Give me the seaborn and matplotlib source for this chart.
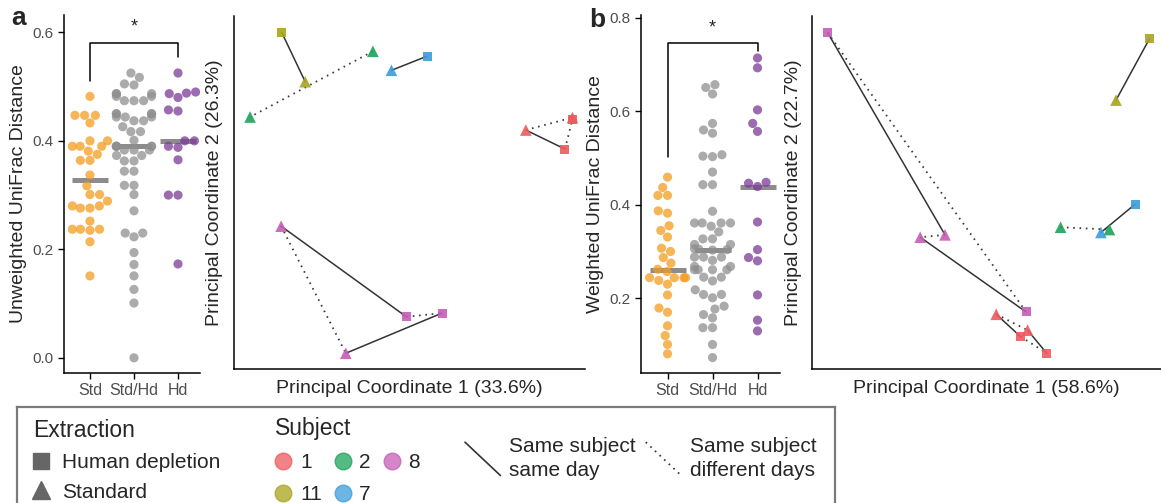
import pandas as pd
import matplotlib
matplotlib.use("Agg")
import matplotlib.pyplot as plt
import seaborn as sns
from matplotlib.lines import Line2D
from matplotlib.legend_handler import HandlerBase

sns.set_style("white")
plt.rcParams["font.family"] = ["Liberation Sans", "DejaVu Sans"]

# distances between replicate pairs
groups = ["Std", "Std/Hd", "Hd"]
unw_std = [0.482, 0.447, 0.447, 0.447, 0.433, 0.40, 0.40, 0.39, 0.39, 0.39,
           0.381, 0.375, 0.364, 0.364, 0.337, 0.317, 0.301, 0.301, 0.289, 0.28,
           0.28, 0.276, 0.276, 0.252, 0.237, 0.237, 0.237, 0.235, 0.214, 0.151]
unw_stdhd = [0.525, 0.517, 0.505, 0.503, 0.487, 0.487, 0.487, 0.482, 0.482, 0.474,
             0.474, 0.474, 0.45, 0.45, 0.45, 0.45, 0.444, 0.444, 0.444, 0.437,
             0.437, 0.426, 0.417, 0.417, 0.401, 0.39, 0.39, 0.39, 0.39, 0.39,
             0.383, 0.383, 0.383, 0.373, 0.373, 0.363, 0.363, 0.344, 0.344, 0.318,
             0.318, 0.301, 0.271, 0.23, 0.23, 0.223, 0.194, 0.172, 0.151, 0.126,
             0.101, 0.0]
unw_hd = [0.525, 0.49, 0.488, 0.487, 0.48, 0.457, 0.455, 0.40, 0.40, 0.39,
          0.388, 0.365, 0.30, 0.30, 0.173]
w_std = [0.459, 0.437, 0.420, 0.420, 0.387, 0.382, 0.355, 0.345, 0.331, 0.307,
         0.300, 0.287, 0.275, 0.262, 0.257, 0.244, 0.244, 0.244, 0.244, 0.238,
         0.230, 0.207, 0.179, 0.170, 0.141, 0.120, 0.101, 0.081]
w_stdhd = [0.657, 0.651, 0.637, 0.574, 0.560, 0.553, 0.507, 0.504, 0.503, 0.470,
           0.443, 0.443, 0.386, 0.361, 0.361, 0.361, 0.361, 0.354, 0.342, 0.327,
           0.327, 0.315, 0.315, 0.306, 0.305, 0.304, 0.303, 0.288, 0.288, 0.288,
           0.281, 0.268, 0.268, 0.261, 0.261, 0.261, 0.261, 0.245, 0.245, 0.237,
           0.218, 0.208, 0.208, 0.201, 0.183, 0.177, 0.165, 0.158, 0.137, 0.137,
           0.101, 0.073]
w_hd = [0.714, 0.693, 0.603, 0.574, 0.557, 0.448, 0.446, 0.439, 0.363, 0.304,
        0.287, 0.280, 0.207, 0.153, 0.130]

# significance brackets: left leg end, bar height, right leg end
sig_a = [0.511, 0.581, 0.555]
sig_b = [0.502, 0.747, 0.728]

# PCoA coordinates
subjects = ["1", "2", "8", "11", "7"]
pa_subject = ["11", "11", "2", "2", "7", "7", "1", "1", "1", "1", "8", "8", "8", "8"]
pa_extraction = ["Human depletion", "Standard", "Standard", "Standard", "Human depletion", "Standard",
                 "Standard", "Human depletion", "Standard", "Human depletion",
                 "Standard", "Human depletion", "Standard", "Human depletion"]
pa_day = [1, 1, 1, 2, 1, 1, 1, 1, 2, 2, 1, 1, 2, 2]
pa_pc1 = [-0.205, -0.158, -0.023, -0.268, 0.085, 0.014, 0.282, 0.360, 0.375, 0.375,
          -0.206, 0.044, -0.077, 0.115]
pa_pc2 = [0.270, 0.179, 0.235, 0.114, 0.226, 0.200, 0.090, 0.055, 0.113, 0.110,
          -0.087, -0.254, -0.321, -0.247]

pb_subject = ["8", "8", "8", "8", "11", "11", "7", "7", "2", "2", "1", "1", "1", "1"]
pb_extraction = ["Human depletion", "Standard", "Standard", "Human depletion",
                 "Human depletion", "Standard", "Human depletion", "Standard",
                 "Standard", "Standard",
                 "Standard", "Human depletion", "Standard", "Human depletion"]
pb_day = [1, 1, 2, 2, 1, 1, 1, 1, 1, 2, 1, 1, 2, 2]
pb_pc1 = [-0.410, -0.107, -0.171, 0.102, 0.420, 0.334, 0.383, 0.295, 0.191, 0.317,
          0.025, 0.088, 0.106, 0.155]
pb_pc2 = [0.322, -0.022, -0.026, -0.153, 0.311, 0.207, 0.030, -0.018, -0.009, -0.013,
          -0.157, -0.195, -0.184, -0.223]

group_colors = {"Std": "#F39C1F", "Std/Hd": "#8F8F8F", "Hd": "#7B3A96"}
subject_colors = {"1": "#EC5A5E", "2": "#1CA35B", "8": "#C65DB6", "11": "#A8A41F", "7": "#3C9CDC"}

W, H = 1161, 503


def px_axes(fig, l, t, r, b):
    return fig.add_axes([l / W, 1 - b / H, (r - l) / W, (b - t) / H])


def strip_panel(ax, std, stdhd, hd, ylim, yticks, ylabel, sig):
    df = pd.DataFrame({"group": ["Std"] * len(std) + ["Std/Hd"] * len(stdhd) + ["Hd"] * len(hd),
                       "value": std + stdhd + hd})
    sns.swarmplot(data=df, x="group", y="value", order=groups, hue="group", palette=group_colors,
                  size=6.6, alpha=0.75, linewidth=0, legend=False, warn_thresh=1, ax=ax)
    sns.boxplot(data=df, x="group", y="value", order=groups, width=0.8, showbox=False,
                showcaps=False, showfliers=False, whiskerprops={"visible": False},
                medianprops={"color": "#8C8C8C", "linewidth": 3.6, "solid_capstyle": "butt"}, ax=ax)
    ax.plot([0, 0, 2, 2], [sig[0], sig[1], sig[1], sig[2]], color="black", lw=1.1)
    ax.text(1, sig[1] + 0.014, "*", ha="center", va="bottom", fontsize=13)
    ax.set_xlim(-0.59, 2.5)
    ax.set_ylim(*ylim)
    ax.set_yticks(yticks)
    ax.set_yticklabels([f"{v:.1f}" for v in yticks])
    ax.set_xlabel("")
    ax.set_ylabel(ylabel, fontsize=14, labelpad=4)
    ax.tick_params(axis="both", length=4, width=1, color="black", labelcolor="#4D4D4D",
                   labelsize=11, left=True, bottom=True)
    ax.tick_params(axis="x", labelsize=11.5)
    sns.despine(ax=ax)
    for sp in ("left", "bottom"):
        ax.spines[sp].set_color("black")
        ax.spines[sp].set_linewidth(1.1)


def pcoa_panel(ax, subj, extr, day, pc1, pc2, xlim, ylim, xlabel, ylabel, ypad):
    df = pd.DataFrame({"subject": subj, "extraction": extr, "day": day, "pc1": pc1, "pc2": pc2})
    for _, g in df.groupby(["subject", "day"]):
        if g["extraction"].nunique() == 2:
            ax.plot(g["pc1"], g["pc2"], color="#333333", lw=1.1, zorder=1)
    for _, g in df.groupby(["subject", "extraction"]):
        if len(g) > 1:
            g = g.sort_values("day")
            ax.plot(g["pc1"], g["pc2"], color="#3A3A3A", lw=1.3, ls=(0, (0.9, 2.6)), zorder=1)
    hd = df[df["extraction"] == "Human depletion"]
    st = df[df["extraction"] == "Standard"]
    sns.scatterplot(data=hd, x="pc1", y="pc2", hue="subject", palette=subject_colors, marker="s",
                    s=42, linewidth=0, alpha=0.9, legend=False, ax=ax, zorder=3)
    sns.scatterplot(data=st, x="pc1", y="pc2", hue="subject", palette=subject_colors, marker="^",
                    s=70, linewidth=0, alpha=0.9, legend=False, ax=ax, zorder=4)
    ax.set_xlim(*xlim)
    ax.set_ylim(*ylim)
    ax.set_xticks([])
    ax.set_yticks([])
    ax.set_xlabel(xlabel, fontsize=14, labelpad=8)
    ax.set_ylabel(ylabel, fontsize=14, labelpad=ypad)
    sns.despine(ax=ax)
    for sp in ("left", "bottom"):
        ax.spines[sp].set_color("black")
        ax.spines[sp].set_linewidth(1.1)


class DiagonalHandler(HandlerBase):
    def create_artists(self, legend, orig_handle, xdescent, ydescent, width, height, fontsize, trans):
        yc = -ydescent + height / 2
        line = Line2D([-xdescent, width - xdescent], [yc + 0.8 * fontsize, yc - 0.8 * fontsize])
        self.update_prop(line, orig_handle, legend)
        line.set_transform(trans)
        return [line]


fig = plt.figure(figsize=(W / 100, H / 100), dpi=100)

ax1 = px_axes(fig, 64, 15, 200, 373)
ax2 = px_axes(fig, 234, 16, 585, 369)
ax3 = px_axes(fig, 641, 15, 780, 373)
ax4 = px_axes(fig, 812, 16, 1161, 369)

strip_panel(ax1, unw_std, unw_stdhd, unw_hd, (-0.028, 0.632), [0.0, 0.2, 0.4, 0.6],
            "Unweighted UniFrac Distance", sig_a)
strip_panel(ax3, w_std, w_stdhd, w_hd, (0.04, 0.806), [0.2, 0.4, 0.6, 0.8],
            "Weighted UniFrac Distance", sig_b)
pcoa_panel(ax2, pa_subject, pa_extraction, pa_day, pa_pc1, pa_pc2, (-0.30, 0.40), (-0.35, 0.30),
           "Principal Coordinate 1 (33.6%)", "Principal Coordinate 2 (26.3%)", 8)
pcoa_panel(ax4, pb_subject, pb_extraction, pb_day, pb_pc1, pb_pc2, (-0.45, 0.45), (-0.25, 0.35),
           "Principal Coordinate 1 (58.6%)", "Principal Coordinate 2 (22.7%)", 7)

fig.text(19 / W, 1 - 18 / H, "a", fontsize=19, fontweight="bold", ha="center", va="center")
fig.text(597 / W, 1 - 20 / H, "b", fontsize=19, fontweight="bold", ha="center", va="center")

# legend box
axl = px_axes(fig, 17, 407, 835, 515)
axl.set_xticks([])
axl.set_yticks([])
for sp in axl.spines.values():
    sp.set_color("#7A7A7A")
    sp.set_linewidth(1.6)

ext_handles = [Line2D([], [], marker="s", color="#666666", ls="none", markersize=11.5),
               Line2D([], [], marker="^", color="#666666", ls="none", markersize=13)]
leg1 = axl.legend(ext_handles, ["Human depletion", "Standard"], title="Extraction",
                  loc="upper left", bbox_to_anchor=(33 / W, 1 - 419 / H), bbox_transform=fig.transFigure,
                  frameon=False, fontsize=15, title_fontsize=16.5, alignment="left",
                  handlelength=0.8, handletextpad=0.6, labelspacing=0.52, borderpad=0, borderaxespad=0)
axl.add_artist(leg1)

subj_order = ["1", "11", "2", "7", "8"]
subj_handles = [Line2D([], [], marker="o", color=subject_colors[s], alpha=0.75, ls="none", markersize=12)
                for s in subj_order]
leg2 = axl.legend(subj_handles, subj_order, title="Subject", ncol=3,
                  loc="upper left", bbox_to_anchor=(275 / W, 1 - 417 / H), bbox_transform=fig.transFigure,
                  frameon=False, fontsize=15, title_fontsize=16.5, alignment="left",
                  handlelength=0.8, handletextpad=0.4, labelspacing=0.62, columnspacing=0.6,
                  borderpad=0, borderaxespad=0)
axl.add_artist(leg2)

line_handles = [Line2D([], [], color="#333333", lw=1.2),
                Line2D([], [], color="#333333", lw=1.3, ls=(0, (0.9, 2.6)))]
leg3 = axl.legend(line_handles, ["Same subject\nsame day", "Same subject\ndifferent days"], ncol=2,
                  loc="upper left", bbox_to_anchor=(465 / W, 1 - 437 / H), bbox_transform=fig.transFigure,
                  frameon=False, fontsize=15, handler_map={Line2D: DiagonalHandler()},
                  handlelength=1.7, handletextpad=0.4, columnspacing=0.5, borderpad=0, borderaxespad=0)
for t in leg3.get_texts():
    t.set_linespacing(1.35)

fig.savefig("out.png", dpi=100)
